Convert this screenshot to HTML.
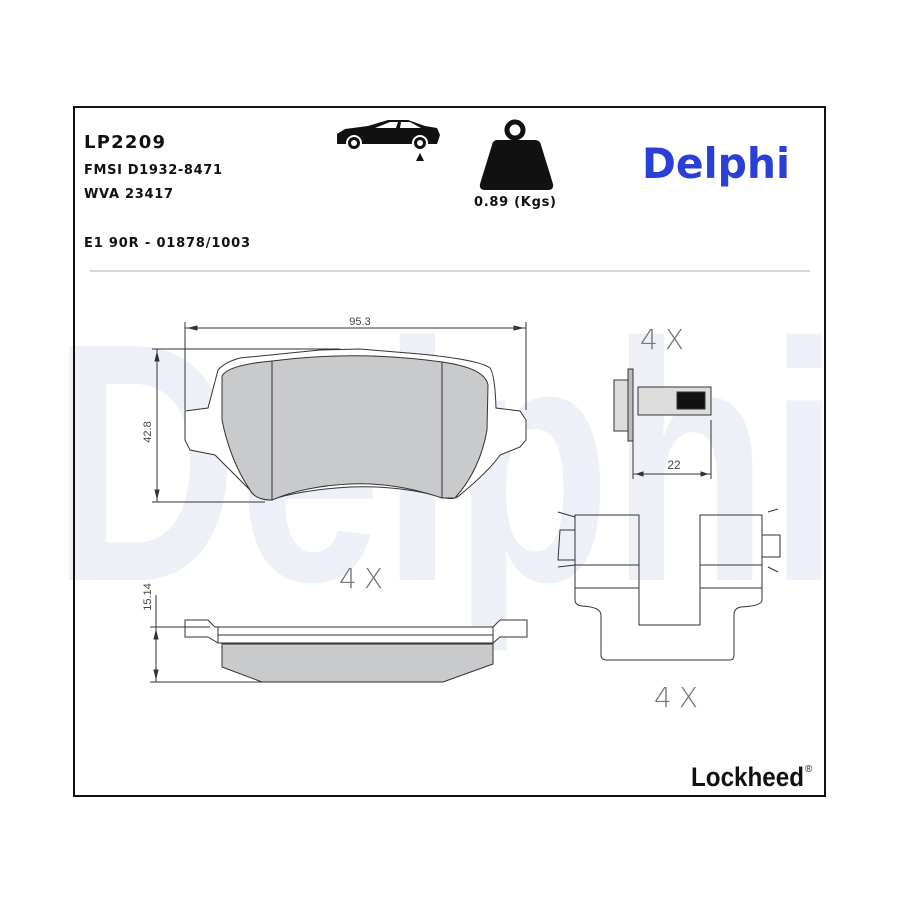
<!DOCTYPE html>
<html><head><meta charset="utf-8"><style>
html,body{margin:0;padding:0;background:#fff;width:900px;height:900px;overflow:hidden}
svg{display:block}
</style></head><body>
<svg width="900" height="900" viewBox="0 0 900 900" xmlns="http://www.w3.org/2000/svg" font-family="'Liberation Sans','DejaVu Sans',sans-serif">
<rect width="900" height="900" fill="#fff"/>
<!-- watermark -->
<text x="52" y="580" font-size="340" font-weight="bold" fill="#edf1f7" textLength="788" lengthAdjust="spacingAndGlyphs">Delphi</text>
<!-- frame -->
<rect x="74" y="107" width="751" height="689" fill="none" stroke="#111" stroke-width="2"/>
<line x1="90" y1="271" x2="810" y2="271" stroke="#ccc" stroke-width="1.5"/>
<!-- header text -->
<text x="84" y="148" font-size="18" font-weight="bold" fill="#111" font-family="'DejaVu Sans',sans-serif" textLength="81">LP2209</text>
<text x="84" y="174" font-size="13" font-weight="bold" fill="#111" font-family="'DejaVu Sans',sans-serif" textLength="138">FMSI D1932-8471</text>
<text x="84" y="198" font-size="13" font-weight="bold" fill="#111" font-family="'DejaVu Sans',sans-serif" textLength="89">WVA 23417</text>
<text x="84" y="247" font-size="13" font-weight="bold" fill="#111" font-family="'DejaVu Sans',sans-serif" textLength="166">E1 90R - 01878/1003</text>
<text x="642" y="178" font-size="42" font-weight="bold" fill="#2a3fd6" font-family="'DejaVu Sans',sans-serif" textLength="148" lengthAdjust="spacingAndGlyphs">Delphi</text>
<!-- car -->
<path d="M337,134 L345,129 L368,126 L388,120 L408,120 L425,126 L437,128 L440,135 L437,144 L337,144 Z" fill="#111"/>
<path d="M375,128 L390,122 L398,122 L396,128 Z M400,128 L401,122 L410,122 L421,128 Z" fill="#fff"/>
<circle cx="354" cy="143" r="7" fill="#111" stroke="#fff" stroke-width="2"/>
<circle cx="354" cy="143" r="3" fill="#fff"/>
<circle cx="420" cy="143" r="7" fill="#111" stroke="#fff" stroke-width="2"/>
<circle cx="420" cy="143" r="3" fill="#fff"/>
<path d="M416,161 L420,153 L424,161 Z" fill="#111"/>
<!-- weight -->
<circle cx="515" cy="130" r="8" fill="none" stroke="#111" stroke-width="5"/>
<path d="M497,140 L535,140 Q540,140 541,145 L553,184 Q554,190 548,190 L485,190 Q479,190 480,184 L492,145 Q493,140 497,140 Z" fill="#111"/>
<text x="474" y="206" font-size="13" font-weight="bold" fill="#111" font-family="'DejaVu Sans',sans-serif" textLength="82">0.89 (Kgs)</text>
<!-- pad front view -->
<g stroke="#333" stroke-width="1" fill="none">
<line x1="185" y1="322" x2="185" y2="410"/>
<line x1="526" y1="322" x2="526" y2="410"/>
<line x1="185" y1="328" x2="526" y2="328"/>
<path d="M189,328 l8,-2 v4 z M522,328 l-8,-2 v4 z" fill="#333"/>
<line x1="152" y1="349" x2="340" y2="349"/>
<line x1="152" y1="502" x2="265" y2="502"/>
<line x1="157" y1="349" x2="157" y2="502"/>
<path d="M157,353 l-2,8 h4 z M157,498 l-2,-8 h4 z" fill="#333"/>
<path d="M185,411 L208,408 L218,370 Q225,362 240,358 L320,350 L360,349 L420,354 Q480,360 490,368 Q495,375 496,408 L520,411 L526,420 L526,440 L520,447 L500,455 Q490,470 460,495 Q455,500 445,498 Q400,485 350,487 Q300,490 270,500 Q260,500 255,495 L215,455 L190,450 L185,440 Z" fill="#fff"/>
<path d="M222,376 Q228,365 272,361 L272,500 Q255,500 250,490 Q230,460 222,420 Z" fill="#c9cacc"/>
<path d="M272,361 Q355,350 442,362 L442,498 Q395,482 350,484 Q305,486 272,500 Z" fill="#c9cacc"/>
<path d="M442,362 Q485,368 488,385 L487,430 Q480,470 455,498 L442,498 Z" fill="#c9cacc"/>
<line x1="272" y1="361" x2="272" y2="500"/>
<line x1="442" y1="362" x2="442" y2="498"/>
</g>
<text x="360" y="325" font-size="11" fill="#444" text-anchor="middle">95.3</text>
<text transform="translate(151,432) rotate(-90)" font-size="11" fill="#444" text-anchor="middle">42.8</text>
<!-- side view -->
<g stroke="#333" stroke-width="1" fill="none">
<path d="M185,620 L208,620 L215,627 L493,627 L500,620 L527,620 L527,637 L500,637 L493,643 L218,643 L208,637 L185,637 Z" fill="#fff"/>
<line x1="218" y1="635" x2="493" y2="635"/>
<line x1="218" y1="627" x2="218" y2="643"/>
<line x1="493" y1="627" x2="493" y2="643"/>
<path d="M222,644 L493,644 L493,664 L443,682 L262,682 L222,667 Z" fill="#c9cacc"/>
<line x1="150" y1="627" x2="210" y2="627"/>
<line x1="150" y1="682" x2="265" y2="682"/>
<line x1="156" y1="595" x2="156" y2="682"/>
<path d="M156,631 l-2,8 h4 z M156,678 l-2,-8 h4 z" fill="#333"/>
</g>
<text transform="translate(151,597) rotate(-90)" font-size="11" fill="#444" text-anchor="middle">15.14</text>
<g font-size="28" fill="#777" text-anchor="middle" font-family="'DejaVu Sans',sans-serif" font-weight="200">
<text x="361" y="588" textLength="44">4X</text>
<text x="662" y="349" textLength="44">4X</text>
<text x="676" y="707" textLength="44">4X</text>
</g>
<!-- bolt -->
<g stroke="#333" stroke-width="1" fill="none">
<path d="M614,380 L628,380 L628,431 L614,431 Z" fill="#ddd"/>
<rect x="628" y="369" width="5" height="72" fill="#bbb"/>
<rect x="638" y="387" width="73" height="28" fill="#ddd"/>
<rect x="677" y="392" width="28" height="17" fill="#111"/>
<line x1="633" y1="440" x2="633" y2="479"/>
<line x1="711" y1="420" x2="711" y2="479"/>
<line x1="633" y1="474" x2="711" y2="474"/>
<path d="M637,474 l6,-2 v4 z M707,474 l-6,-2 v4 z" fill="#333"/>
</g>
<text x="674" y="469" font-size="12" fill="#444" text-anchor="middle">22</text>
<!-- clip -->
<g stroke="#333" stroke-width="1" fill="none">
<path d="M575,515 L639,515 L639,565 L575,565 Z"/>
<path d="M700,515 L762,515 L762,565 L700,565 Z"/>
<path d="M575,530 L560,530 L558,560 L575,560"/>
<path d="M762,535 L780,535 L780,557 L762,557"/>
<path d="M575,565 L575,600 Q575,605 582,606 Q601,607 601,615 L601,655 Q601,660 607,660 L730,660 Q734,660 734,655 L734,615 Q734,608 741,607 Q762,606 762,600 L762,565"/>
<line x1="575" y1="588" x2="639" y2="588"/>
<line x1="700" y1="588" x2="762" y2="588"/>
<path d="M639,565 L639,625 L700,625 L700,565"/>
<path d="M558,512 L575,517 M558,567 L575,565 M768,512 L778,509 M768,567 L778,572"/>
</g>
<!-- Lockheed -->
<text x="691" y="786" font-size="27" font-weight="bold" fill="#111" font-family="'Liberation Sans Narrow','Liberation Sans',sans-serif" textLength="113" lengthAdjust="spacingAndGlyphs">Lockheed</text>
<text x="805" y="772" font-size="10" fill="#111">®</text>
</svg>
</body></html>
